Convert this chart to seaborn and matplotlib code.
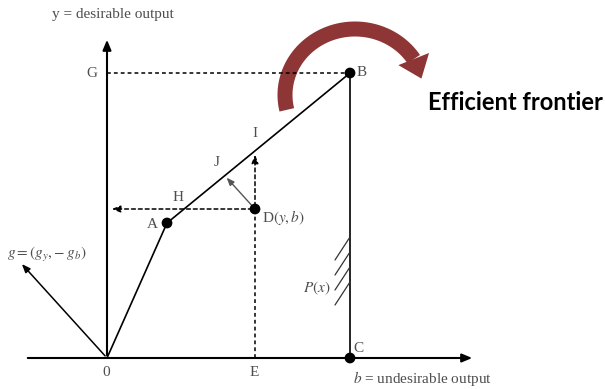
import numpy as np
import matplotlib
matplotlib.use("Agg")
import matplotlib.pyplot as plt
import seaborn as sns

# diagram coordinates (b = undesirable output, y = desirable output), origin at 0
pt_names = ["0", "A", "B", "C", "D"]
pt_b = [0, 60, 243, 243, 148]
pt_y = [0, 135, 285, 0, 149]
frontier_order = ["0", "A", "B", "C"]
g_dir = (-87, 96)          # direction vector g = (g_y, -g_b)
y_axis_top = 321
x_axis_span = (-82, 368)
hatch_tops = [121, 106, 91, 76]
# red curved arrow: centre, radii, start/end angle (degrees), extra head turn
arc_centre = (248, 263)
arc_radii = (70, 66)
arc_angles = (193, 33)
head_turn = 13

sns.set_style("white")
plt.rcParams["mathtext.fontset"] = "stix"
serif = "Liberation Serif"
grey = "#4d4d4d"

pts = {n: np.array([b, y], float) for n, b, y in zip(pt_names, pt_b, pt_y)}
A, B, C, D = pts["A"], pts["B"], pts["C"], pts["D"]
# I: point on AB straight above D; H: point on AB at D's height
I = A + (B - A) * (D[0] - A[0]) / (B[0] - A[0])
H = A + (B - A) * (D[1] - A[1]) / (B[1] - A[1])
# J: D moved along g until it hits AB
g = np.array(g_dir, float)
M = np.column_stack([g, A - B])
t, s = np.linalg.solve(M, A - D)
J = D + t * g

fig = plt.figure(figsize=(6.05, 3.89), dpi=100)
ax = fig.add_axes([0, 0, 1, 1])
ax.set_xlim(-107, 498)
ax.set_ylim(-31, 358)
ax.axis("off")

# axes with arrows
ax.annotate("", xy=(0, y_axis_top), xytext=(0, 0),
            arrowprops=dict(arrowstyle="-|>,head_width=0.25,head_length=0.6", color="black", lw=1.5))
ax.annotate("", xy=(x_axis_span[1], 0), xytext=(x_axis_span[0], 0),
            arrowprops=dict(arrowstyle="-|>,head_width=0.25,head_length=0.6", color="black", lw=1.5))

# frontier 0-A-B-C
fb = [pts[n][0] for n in frontier_order]
fy = [pts[n][1] for n in frontier_order]
sns.lineplot(x=fb, y=fy, sort=False, estimator=None, errorbar=None,
             color="black", lw=1.2, ax=ax)
sns.scatterplot(x=[A[0], B[0], C[0], D[0]], y=[A[1], B[1], C[1], D[1]],
                color="black", s=60, edgecolor="none", ax=ax, zorder=5)

# dashed guides
ax.plot([0, B[0]], [B[1], B[1]], ls=(0, (2.5, 2)), color="black", lw=1.1)
ax.plot([D[0], D[0]], [0, D[1]], ls=(0, (2.5, 2)), color="black", lw=1.1)
ax.annotate("", xy=(I[0], I[1] - 1), xytext=(D[0], D[1]),
            arrowprops=dict(arrowstyle="-|>,head_width=0.2,head_length=0.5", color="black",
                            lw=1.1, ls=(0, (2.5, 2))))
ax.annotate("", xy=(2, D[1]), xytext=(D[0], D[1]),
            arrowprops=dict(arrowstyle="-|>,head_width=0.2,head_length=0.5", color="black",
                            lw=1.1, ls=(0, (2.5, 2))))
# D -> J direction arrow
ax.annotate("", xy=(J[0], J[1]), xytext=(D[0], D[1]),
            arrowprops=dict(arrowstyle="-|>,head_width=0.18,head_length=0.45", color="#555555", lw=1.0))
# g arrow
ax.annotate("", xy=(g[0], g[1]), xytext=(0, 0),
            arrowprops=dict(arrowstyle="-|>,head_width=0.2,head_length=0.5", color="black", lw=1.1))

# hatching for P(x)
for ht in hatch_tops:
    ax.plot([B[0] - 15, B[0]], [ht - 23, ht], color="#333333", lw=0.9)

# labels
lab = dict(family=serif, fontsize=11, color=grey)
ax.text(6, 344, "y = desirable output", ha="center", va="center", **lab)
ax.text(246, -20, "$b$ = undesirable output", ha="left", va="center", **lab)
ax.text(-15, B[1], "G", ha="center", va="center", **lab)
ax.text(B[0] + 12, B[1] + 1, "B", ha="center", va="center", **lab)
ax.text(C[0] + 8, C[1] + 10, "C", ha="center", va="center", **lab)
ax.text(A[0] - 15, A[1] - 1, "A", ha="center", va="center", **lab)
ax.text(H[0] - 6, H[1] + 12, "H", ha="center", va="center", **lab)
ax.text(I[0], I[1] + 17, "I", ha="center", va="center", **lab)
ax.text(J[0] - 8, J[1] + 13, "J", ha="center", va="center", **lab)
ax.text(-1, -15, "0", ha="center", va="center", **lab)
ax.text(D[0] - 1, -15, "E", ha="center", va="center", **lab)
ax.text(D[0] + 7, D[1] - 8, "D$(y,b)$", ha="left", va="center", **lab)
ax.text(-100, 104, "$g=(g_y,\\!-g_b)$", ha="left", va="center", **lab)
ax.text(B[0] - 19, 70, "$P(x)$", ha="right", va="center", **lab)

# curved red arrow (band along an ellipse plus a triangular head)
red = "#8e3535"
cx, cy = arc_centre
rx, ry = arc_radii
th = np.radians(np.linspace(arc_angles[0], arc_angles[1], 90))
half = 7.5
outer = np.column_stack([cx + (rx + half) * np.cos(th), cy + (ry + half) * np.sin(th)])
inner = np.column_stack([cx + (rx - half) * np.cos(th), cy + (ry - half) * np.sin(th)])
band = np.vstack([outer, inner[::-1]])
ax.fill(band[:, 0], band[:, 1], color=red, lw=0)
te = th[-1]
base = np.array([cx + rx * np.cos(te), cy + ry * np.sin(te)])
tan = np.array([rx * np.sin(te), -ry * np.cos(te)])
tan /= np.linalg.norm(tan)
phi = np.radians(head_turn)
tan = np.array([tan[0] * np.cos(phi) + tan[1] * np.sin(phi),
                -tan[0] * np.sin(phi) + tan[1] * np.cos(phi)])
nrm = np.array([-tan[1], tan[0]])
head = np.array([base + nrm * 16.5, base + tan * 21, base - nrm * 16.5])
ax.fill(head[:, 0], head[:, 1], color=red, lw=0)

ax.text(321, 255, "Efficient frontier", family="Lato", fontweight="bold", fontsize=17,
        color="black", ha="left", va="center")

fig.savefig("out.png", dpi=100)
